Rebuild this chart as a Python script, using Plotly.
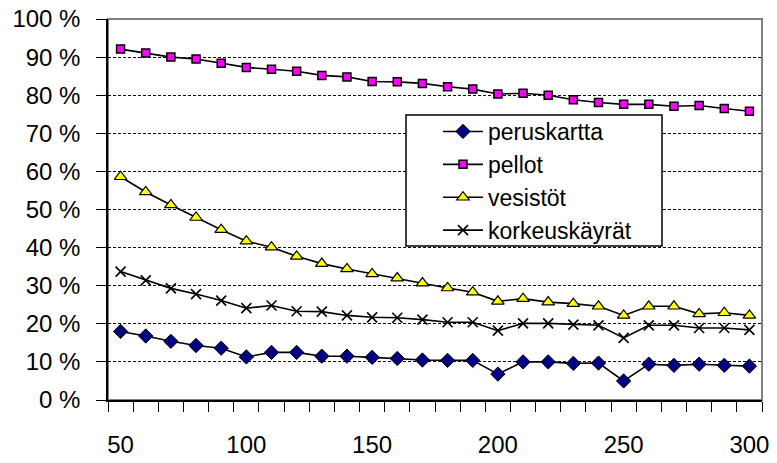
import plotly.graph_objects as go

x_vals = [50, 60, 70, 80, 90, 100, 110, 120, 130, 140, 150, 160, 170,
          180, 190, 200, 210, 220, 230, 240, 250, 260, 270, 280, 290, 300]

peruskartta = [18.0, 16.8, 15.4, 14.3, 13.6, 11.3, 12.5, 12.5, 11.5, 11.5, 11.2, 10.9, 10.5,
               10.4, 10.4, 6.8, 10.0, 10.0, 9.6, 9.7, 5.0, 9.4, 9.1, 9.4, 9.1, 8.9]
pellot = [92.1, 91.1, 90.0, 89.5, 88.4, 87.3, 86.8, 86.3, 85.2, 84.8, 83.6, 83.5, 83.1,
          82.2, 81.6, 80.3, 80.5, 80.0, 78.8, 78.1, 77.6, 77.6, 77.1, 77.3, 76.5, 75.8]
vesistot = [58.6, 54.6, 51.2, 47.9, 44.7, 41.7, 40.1, 37.7, 35.8, 34.4, 33.1, 32.0, 30.7,
            29.4, 28.3, 25.9, 26.6, 25.7, 25.3, 24.6, 22.2, 24.6, 24.6, 22.6, 22.9, 22.2]
korkeuskayrat = [33.7, 31.4, 29.3, 27.8, 26.1, 24.1, 24.8, 23.3, 23.2, 22.2, 21.7, 21.6, 21.1,
                 20.4, 20.4, 18.2, 20.1, 20.1, 19.8, 19.6, 16.3, 19.6, 19.6, 18.9, 18.9, 18.4]

series_names = ["peruskartta", "pellot", "vesistöt", "korkeuskäyrät"]
x_label_vals = [50, 100, 150, 200, 250, 300]
x_label_text = ["50", "100", "150", "200", "250", "300"]
y_tick_vals = [0, 10, 20, 30, 40, 50, 60, 70, 80, 90, 100]
y_tick_text = [f"{v} %" for v in y_tick_vals]

FONT = "Liberation Sans, Arial, sans-serif"

styles = [
    dict(symbol="diamond", size=11, color="#000080", line=dict(color="#000000", width=1)),
    dict(symbol="square", size=8, color="#FF00FF", line=dict(color="#000000", width=1.5)),
    dict(symbol="triangle-up", size=11, color="#FFFF00", line=dict(color="#000000", width=1.2)),
    dict(symbol="x-thin", size=10, color="#000000", line=dict(color="#000000", width=1.6)),
]

fig = go.Figure()
for name, ys, mk in zip(series_names, [peruskartta, pellot, vesistot, korkeuskayrat], styles):
    fig.add_trace(go.Scatter(
        x=x_vals, y=ys, name=name, mode="lines+markers",
        line=dict(color="#000000", width=1.6),
        marker=mk, legendgroup=name,
    ))

L, R, T, B = 108, 15, 19, 63
W, H = 777, 463
pw, ph = W - L - R, H - T - B

def px_to_paper_x(px):
    return (px - L) / pw

def px_to_paper_y(py):
    return (H - B - py) / ph

minor_ticks = [45 + 10 * i for i in range(27)]

fig.update_layout(
    width=W, height=H,
    margin=dict(l=L, r=R, t=T, b=B, autoexpand=False),
    paper_bgcolor="white", plot_bgcolor="white",
    font=dict(family=FONT, color="#000000", size=24),
    showlegend=True,
    legend=dict(
        x=px_to_paper_x(438), y=px_to_paper_y(110), xanchor="left", yanchor="top",
        bgcolor="rgba(0,0,0,0)", borderwidth=0,
        font=dict(family=FONT, size=23, color="#000000"),
        itemwidth=40, tracegroupgap=3, traceorder="normal",
    ),
    xaxis=dict(
        range=[45, 305], tickmode="array", tickvals=x_label_vals, ticktext=x_label_text,
        ticks="outside", ticklen=22, tickcolor="rgba(0,0,0,0)", automargin=False,
        showline=True, linecolor="#000000", linewidth=1.5,
        showgrid=False, zeroline=False,
        tickfont=dict(family=FONT, size=24, color="#000000"),
        minor=dict(tickmode="array", tickvals=minor_ticks, ticks="outside", ticklen=10,
                   tickcolor="#000000", tickwidth=1.3, showgrid=False),
    ),
    yaxis=dict(
        range=[0, 100], tickmode="array", tickvals=y_tick_vals, ticktext=y_tick_text,
        ticks="outside", ticklen=10, tickcolor="#000000", tickwidth=1.3,
        showline=True, linecolor="#000000", linewidth=1.5, automargin=False,
        showgrid=True, gridcolor="#000000", gridwidth=1, griddash="3px,2px",
        zeroline=False, ticklabelstandoff=11,
        tickfont=dict(family=FONT, size=24, color="#000000"),
    ),
    shapes=[
        dict(type="rect", xref="paper", yref="paper", x0=0, x1=1, y0=0, y1=1,
             line=dict(color="#808080", width=2), fillcolor="rgba(0,0,0,0)", layer="between"),
        dict(type="rect", xref="paper", yref="paper",
             x0=px_to_paper_x(406), x1=px_to_paper_x(662),
             y0=px_to_paper_y(246), y1=px_to_paper_y(115),
             line=dict(color="#000000", width=1.5), fillcolor="white", layer="above"),
    ],
)

fig.write_html("out.html")
